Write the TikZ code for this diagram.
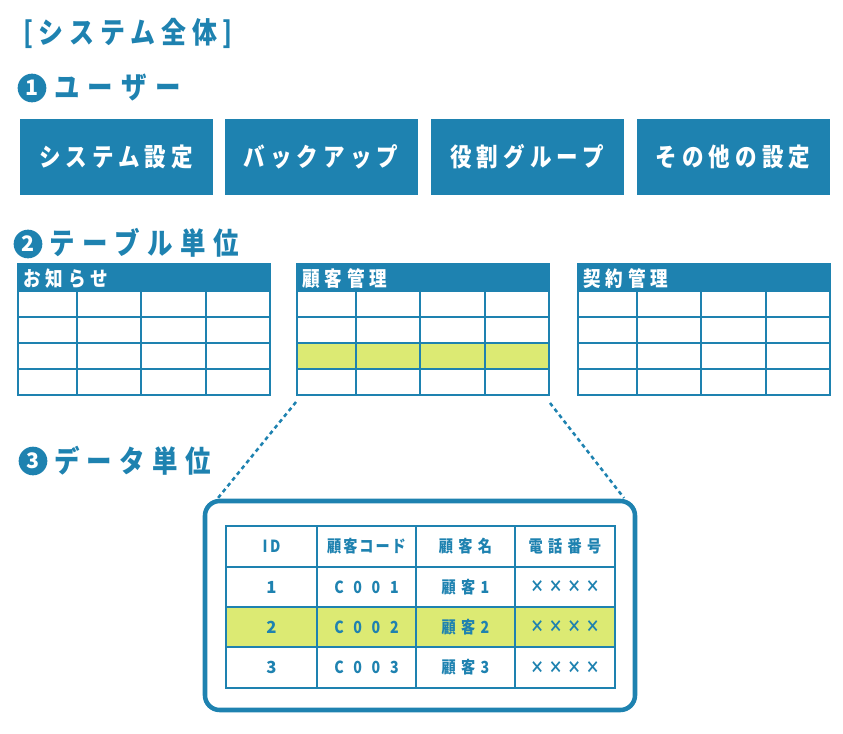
\documentclass[tikz,border=0pt]{standalone}
\usepackage{fontspec}
\setmainfont{Noto Sans CJK JP}
\usetikzlibrary{calc}
\definecolor{mainblue}{HTML}{1E82B0}
\definecolor{hlgreen}{HTML}{DCEA73}
\newcommand\tracked[2]{{\addfontfeatures{LetterSpace=#1,FakeStretch=0.85}#2}}
\newcommand\smalltable[4]{%
  \node[thead] (#1) at (#2,264) {};
  \node[theadtext] (#1lab) at ($(#1.west)+(5,1)$) {\tracked{24}{#3}};
  \node[tbody] (#1body) at (#2,291) {};
  \ifnum#4>0 \fill[hlgreen] (#2,343) rectangle ++(252,26);\fi
  \foreach \yy in {317,343,369} \draw[tline] (#2,\yy) -- ++(252,0);
  \foreach \xx in {59,123,188} \draw[tline] ({#2+\xx},291) -- ++(0,104);
  \draw[tline] (#2,291) rectangle ++(252,104);
}
\newcommand\cellnode[7]{%
  \node[cell, fill=#6, minimum width={(#3-#2)*0.75pt}, minimum height={(#5-#4)*0.75pt}]
    (#1) at ({(#2+#3)/2},{(#4+#5)/2}) {#7};}
\begin{document}
\begin{tikzpicture}[x=0.75pt,y=-0.75pt,
  every node/.style={inner sep=0pt, outer sep=0pt},
  heading/.style={anchor=west, text=mainblue, font=\bfseries\fontsize{22.5}{24}\selectfont},
  numcirc/.style={circle, fill=mainblue, minimum size=21.5pt, text=white, font=\bfseries\fontsize{16}{16}\selectfont},
  userbox/.style={fill=mainblue, minimum width=144.75pt, minimum height=57pt, text=white, font=\bfseries\fontsize{19}{20}\selectfont},
  thead/.style={fill=mainblue, draw=mainblue, line width=1.4pt, minimum width=189pt, minimum height=20.25pt, anchor=north west},
  tbody/.style={minimum width=189pt, minimum height=78pt, anchor=north west},
  theadtext/.style={anchor=west, text=white, font=\bfseries\fontsize{15.5}{16}\selectfont},
  tline/.style={draw=mainblue, line width=1.4pt},
  cell/.style={draw=mainblue, line width=2.2pt, text=mainblue, font=\bfseries\fontsize{12.5}{13}\selectfont},
  frame/.style={draw=mainblue, line width=3.4pt, rounded corners=11pt},
  zoomline/.style={draw=mainblue, line width=1.9pt, dash pattern=on 3pt off 2.6pt},
]
\useasboundingbox (0,0) rectangle (843,733);

% title
\node[heading, font=\bfseries\fontsize{22}{24}\selectfont] (title) at (23,33) {\tracked{20}{[システム全体]}};

% 1 users
\node[numcirc] (n1) at (32,88) {1};
\node[heading] (h1) at (54,88) {\tracked{28}{ユーザー}};
\node[userbox] (b1) at (116,157) {\tracked{20}{システム設定}};
\node[userbox] (b2) at (321,157) {\tracked{20}{バックアップ}};
\node[userbox] (b3) at (527,157) {\tracked{20}{役割グループ}};
\node[userbox] (b4) at (733,157) {\tracked{20}{その他の設定}};

% 2 tables
\node[numcirc] (n2) at (28,244) {2};
\node[heading] (h2) at (50,243) {\tracked{25}{テーブル単位}};
\smalltable{t1}{18}{お知らせ}{0}
\smalltable{t2}{297}{顧客管理}{1}
\smalltable{t3}{578}{契約管理}{0}

% 3 data
\node[numcirc] (n3) at (33,461) {3};
\node[heading] (h3) at (54,461) {\tracked{25}{データ単位}};

\node[frame, minimum width=322.5pt, minimum height=156.75pt] (frame) at (420,605.5) {};
\draw[zoomline] ($(t2body.south west)+(-1,7)$) -- ($(frame.north west)+(13,-3)$);
\draw[zoomline] ($(t2body.south east)+(1,8)$) -- ($(frame.north east)+(-11,-3)$);

% inner table
\cellnode{c11}{226}{317}{526}{567}{white}{\tracked{15}{ID}}
\cellnode{c12}{317}{416}{526}{567}{white}{\tracked{12}{顧客コード}}
\cellnode{c13}{416}{515}{526}{567}{white}{\tracked{32}{顧客名}}
\cellnode{c14}{515}{615}{526}{567}{white}{\tracked{32}{電話番号}}
\cellnode{c21}{226}{317}{567}{607}{white}{1}
\cellnode{c22}{317}{416}{567}{607}{white}{\tracked{58}{C001}}
\cellnode{c23}{416}{515}{567}{607}{white}{\tracked{32}{顧客1}}
\cellnode{c24}{515}{615}{567}{607}{white}{\tracked{26}{××××}}
\cellnode{c31}{226}{317}{607}{647}{hlgreen}{2}
\cellnode{c32}{317}{416}{607}{647}{hlgreen}{\tracked{58}{C002}}
\cellnode{c33}{416}{515}{607}{647}{hlgreen}{\tracked{32}{顧客2}}
\cellnode{c34}{515}{615}{607}{647}{hlgreen}{\tracked{26}{××××}}
\cellnode{c41}{226}{317}{647}{688}{white}{3}
\cellnode{c42}{317}{416}{647}{688}{white}{\tracked{58}{C003}}
\cellnode{c43}{416}{515}{647}{688}{white}{\tracked{32}{顧客3}}
\cellnode{c44}{515}{615}{647}{688}{white}{\tracked{26}{××××}}
\end{tikzpicture}
\end{document}
